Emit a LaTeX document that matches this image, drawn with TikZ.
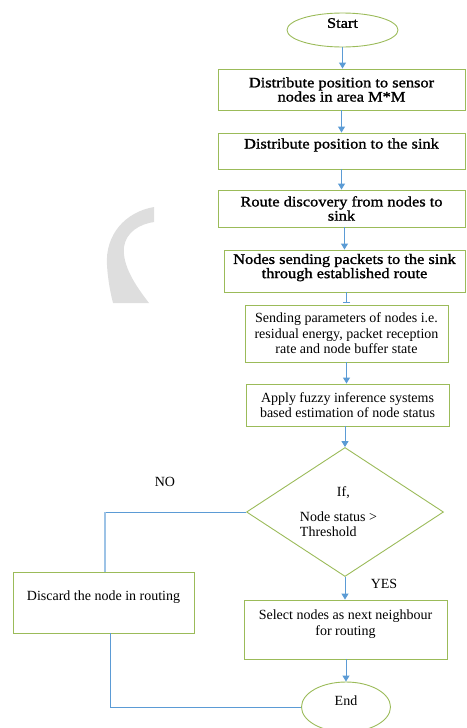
\documentclass[tikz,border=0pt]{standalone}
\usepackage{fontspec}
\setmainfont{Liberation Serif}
\newfontfamily\widefont[FakeStretch=1.13,FakeBold=1.3]{Liberation Serif}
\usetikzlibrary{shapes.geometric,arrows.meta}
\definecolor{boxgreen}{HTML}{9BBB59}
\definecolor{arrblue}{HTML}{5B9BD5}
\definecolor{lightblue}{HTML}{9DC3E6}
\definecolor{wmgray}{HTML}{DEDEDE}
\newcommand{\lowstrut}[1]{\rule[-#1]{0pt}{#1}}
\begin{document}
\begin{tikzpicture}[x=1pt,y=-1pt,
  boldtxt/.style={font=\widefont\fontsize{14.5}{12.7}\selectfont},
  regtxt/.style={font=\fontsize{14}{15.5}\selectfont},
  procbox/.style={draw=boxgreen,line width=0.9pt,rectangle,align=center,inner sep=2pt},
  oval/.style={draw=boxgreen,line width=0.9pt,ellipse,inner sep=0pt},
  decision/.style={draw=boxgreen,line width=0.9pt,diamond,aspect=1.53,inner sep=0pt,align=left},
  arr/.style={draw=arrblue,line width=1pt,-{Triangle[width=7pt,length=6pt]}},
  bararr/.style={draw=arrblue,line width=1pt,-{Bar[width=7pt]}},
  link/.style={draw=arrblue,line width=1pt},
  lightlink/.style={draw=lightblue,line width=2pt},
]
\useasboundingbox (0,0) rectangle (466,728);
% watermark fragment
\fill[wmgray] (154,207) .. controls (125,212) and (105,235) .. (107,265)
  .. controls (108,282) and (111,295) .. (113,303) -- (149,303)
  .. controls (135,285) and (122,265) .. (124,247)
  .. controls (126,232) and (140,224) .. (154,222) -- cycle;

\node[oval,boldtxt,minimum width=111pt,minimum height=34pt] (start) at (342.5,30) {Start\lowstrut{14pt}};
\node[procbox,boldtxt,minimum width=247pt,minimum height=41pt] (b1) at (341.5,89.5) {Distribute position to sensor\\nodes in area M*M};
\node[procbox,boldtxt,minimum width=247pt,minimum height=36pt] (b2) at (341.5,151) {Distribute position to the sink\lowstrut{15pt}};
\node[procbox,boldtxt,minimum width=247pt,minimum height=37pt] (b3) at (341.5,208.5) {Route discovery from nodes to\\sink};
\node[procbox,boldtxt,minimum width=241pt,minimum height=42pt] (b4) at (344.5,271) {Nodes sending packets to the sink\\through established route\lowstrut{10pt}};
\node[procbox,regtxt,minimum width=203pt,minimum height=57pt] (b5) at (346.5,333.5) {Sending parameters of nodes i.e.\\residual energy, packet reception\\rate and node buffer state};
\node[procbox,regtxt,minimum width=203pt,minimum height=42pt] (b6) at (347.5,405) {Apply fuzzy inference systems\\based estimation of node status};
\node[decision,regtxt,minimum width=197pt,minimum height=129pt] (dia) at (345,512) {\rule{37pt}{0pt}If,\\[9pt]Node status >\rule{13pt}{0pt}\\Threshold};
\node[procbox,regtxt,minimum width=181pt,minimum height=61pt] (disc) at (103.5,602.5) {Discard the node in routing\lowstrut{14pt}};
\node[procbox,regtxt,minimum width=203pt,minimum height=59pt] (sel) at (345.5,629.5) {Select nodes as next neighbour\\for routing\lowstrut{14pt}};
\node[oval,regtxt,minimum width=89pt,minimum height=50pt] (end) at (346,707) {End\lowstrut{12pt}};

\node[regtxt] (no) at (165,482) {NO};
\node[regtxt] (yes) at (384,584) {YES};

\draw[arr] (start.south) -- (start.south |- b1.north);
\draw[arr] (b1.south) -- (b2.north);
\draw[arr] (b2.south) -- (b3.north);
\draw[arr] (b3.south -| b4.north) -- (b4.north);
\draw[bararr] (b4.south -| b5.north) -- ([yshift=2pt]b5.north);
\draw[arr] (b5.south) -- (b5.south |- b6.north);
\draw[arr] (b6.south -| dia.north) -- (dia.north);
\draw[arr] (dia.south) -- (dia.south |- sel.north);
\draw[arr] (sel.south -| end.north) -- (end.north);

\coordinate (nocorner) at (105,512);
\draw[link] (dia.west) -- (nocorner);
\draw[lightlink] (nocorner) -- (disc.north -| nocorner);
\coordinate (endcorner) at (110,707);
\draw[link] (disc.south -| endcorner) -- (endcorner) -- (end.west);
\end{tikzpicture}
\end{document}
